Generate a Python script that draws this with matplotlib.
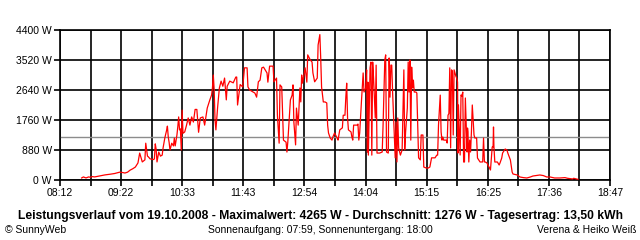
import matplotlib
matplotlib.use("Agg")
import matplotlib.pyplot as plt
import numpy as np

plt.rcParams["font.family"] = ["Liberation Sans", "DejaVu Sans"]

# ---------------------------------------------------------------------------
# Data - time in minutes since midnight, power in W
# ---------------------------------------------------------------------------

minutes = [
    517, 519, 522, 525, 527, 529, 532, 538, 544, 550, 555, 561, 564, 567, 570,
    573, 576, 579, 582, 584, 586, 587, 590, 591, 593, 594, 596, 600, 601, 602,
    603, 604, 606, 608, 610, 611, 613, 615, 616, 617, 618, 619, 621, 623, 624,
    625, 627, 628, 629, 630, 631, 632, 633, 634, 636, 638, 640, 642, 644, 646,
    648, 650, 652, 654, 657, 659, 662, 665, 667, 668, 669, 670, 671, 672, 674,
    676, 678, 680, 682, 684, 685, 688, 692, 695, 696, 697, 700, 703, 705, 708,
    709, 711, 717, 719, 721, 723, 725, 727, 731, 732, 734, 738, 739, 742, 743,
    745, 746, 748, 749, 750, 753, 754, 755, 758, 760, 761, 762, 764, 765, 767,
    769, 770, 771, 772, 775, 777, 778, 781, 783, 784, 786, 789, 790, 792, 793,
    794, 796, 798, 800, 801, 802, 804, 806, 807, 809, 812, 813, 815, 818, 819,
    821, 822, 823, 824, 825, 828, 829, 830, 831, 835, 836, 837, 838, 840, 842,
    843, 845, 846, 847, 847.5, 848, 850, 851, 852, 853, 854, 856, 857, 858, 861,
    864, 865, 867, 868, 869, 871, 872, 873, 874, 875, 876, 879, 880, 881, 882,
    883, 885, 887, 888, 889, 890, 891, 893, 894, 895, 896, 897, 898, 899, 900,
    901, 903, 904, 905, 906, 908, 909, 911, 912, 915, 917, 919, 921, 925, 927,
    928, 929, 931, 932, 933, 934, 935, 938, 939, 940, 941, 942, 943, 944, 945,
    946, 947, 948, 949, 950, 951, 951.5, 952, 954, 955, 956, 957, 958, 959, 960,
    962, 962.5, 963, 964, 965, 966, 967, 968, 970, 971, 973, 974, 977, 979, 980,
    981, 982, 983, 985, 986, 988, 989, 991, 992, 992.5, 993, 994, 997, 999, 1000,
    1002, 1003, 1006, 1008, 1009, 1012, 1014, 1015, 1020, 1023, 1027, 1031, 1035,
    1038, 1046, 1050, 1054, 1058, 1063, 1069, 1075, 1078, 1084, 1085, 1090,
]

watts = [
    60, 90, 60, 90, 80, 100, 90, 120, 150, 170, 190, 230, 220, 205, 230,
    290, 330, 380, 500, 790, 620, 530, 590, 1080, 700, 680, 620, 600, 620, 1060,
    900, 530, 820, 700, 730, 940, 1230, 1450, 1580, 1260, 1100, 880, 1080, 1000, 1230,
    1000, 1320, 1560, 1850, 1470, 1500, 880, 2050, 1370, 1410, 1600, 1820, 1610, 1850, 1700,
    2070, 2070, 1400, 1820, 1850, 1610, 2110, 2350, 2490, 2700, 3080, 2640, 1760, 1470, 2140,
    2700, 2900, 2750, 2990, 2350, 2750, 2900, 2850, 3020, 3020, 2200, 2800, 2730, 3290, 3290,
    2730, 2640, 2550, 2430, 2880, 2930, 3290, 3310, 3140, 2870, 3340, 3340, 2880, 2990, 1900,
    1080, 2790, 2730, 1960, 1170, 1110, 820, 1110, 2350, 2490, 2790, 1700, 1030, 2110, 1610,
    2700, 2290, 3080, 2840, 3290, 2870, 3670, 3520, 3460, 3140, 2880, 2990, 3960, 4265, 3580,
    2730, 2290, 2290, 2260, 1610, 1380, 1230, 1170, 1260, 1380, 1230, 1170, 1470, 1530, 1900,
    1900, 2430, 2840, 1820, 1470, 1410, 1260, 1170, 1610, 1610, 1640, 1170, 1380, 2290, 3140,
    2580, 2700, 3230, 820, 2870, 730, 3290, 3460, 730, 3460, 2990, 1820, 3370, 790, 790,
    820, 1610, 3520, 3670, 820, 790, 3580, 2430, 3370, 3370, 2580, 650, 1700, 530, 1820,
    940, 730, 880, 2000, 3230, 880, 1410, 2110, 3460, 2580, 3520, 1170, 3310, 2700, 2930,
    2580, 2580, 2550, 1560, 650, 590, 1320, 1320, 380, 350, 350, 380, 650, 650, 730,
    730, 1610, 2490, 1410, 1170, 1260, 1170, 1170, 1085, 1900, 1950, 3290, 940, 3230, 3200,
    1320, 3230, 3140, 3050, 2990, 2875, 790, 2200, 733, 2493, 2460, 2580, 528, 528, 2405,
    821, 1525, 1408, 528, 1173, 821, 1408, 2200, 1320, 1232, 1232, 645, 528, 528, 530,
    1230, 530, 528, 500, 440, 352, 293, 968, 968, 1555, 968, 528, 528, 440, 500,
    645, 792, 909, 880, 792, 587, 235, 176, 147, 88, 70, 59, 88,
    117, 147, 130, 88, 88, 59, 59, 70, 50, 30, 50, 20,
]

average_w = 1276
y_ticks = [0, 880, 1760, 2640, 3520, 4400]
y_labels = ["0 W", "880 W", "1760 W", "2640 W", "3520 W", "4400 W"]
x_labels = ["08:12", "09:22", "10:33", "11:43", "12:54",
            "14:04", "15:15", "16:25", "17:36", "18:47"]
x_start, x_end = 492, 1127  # 08:12 .. 18:47

title = ("Leistungsverlauf vom 19.10.2008 - Maximalwert: 4265 W - "
         "Durchschnitt: 1276 W - Tagesertrag: 13,50 kWh")
sun_text = "Sonnenaufgang: 07:59, Sonnenuntergang: 18:00"

# ---------------------------------------------------------------------------
# Plot
# ---------------------------------------------------------------------------

fig = plt.figure(figsize=(6.4, 2.4), dpi=100)
ax = fig.add_axes([60 / 640, 60 / 240, 550 / 640, 150 / 240])

major = np.linspace(x_start, x_end, len(x_labels))
minor = (major[:-1] + major[1:]) / 2

ax.axhline(average_w, color="#8c8c8c", linewidth=1.0, zorder=2)
ax.plot(minutes, watts, color="#ff0000", linewidth=0.9, zorder=3)

ax.set_xlim(x_start, x_end)
ax.set_ylim(0, 4400)
ax.set_xticks(major)
ax.set_xticklabels(x_labels)
ax.set_xticks(minor, minor=True)
ax.set_yticks(y_ticks)
ax.set_yticklabels(y_labels)

ax.grid(which="both", axis="x", color="black", linewidth=1.2, zorder=1)
ax.grid(which="major", axis="y", color="black", linewidth=1.2, zorder=1)
ax.set_axisbelow(True)
for sp in ax.spines.values():
    sp.set_linewidth(1.2)
ax.tick_params(which="both", length=4, width=1.2, labelsize=7.5, pad=2,
               colors="black")

fig.text(321 / 640, 1 - 216 / 240, title, ha="center", va="center",
         fontsize=8.7, fontweight="bold")
fig.text(5 / 640, 1 - 230 / 240, "\u00a9 SunnyWeb", ha="left", va="center",
         fontsize=7.5)
fig.text(320 / 640, 1 - 230 / 240, sun_text, ha="center", va="center",
         fontsize=7.5)
fig.text(636 / 640, 1 - 230 / 240, "Verena & Heiko Wei\u00df", ha="right",
         va="center", fontsize=7.5)

plt.savefig("out.png", dpi=100)
plt.close()
